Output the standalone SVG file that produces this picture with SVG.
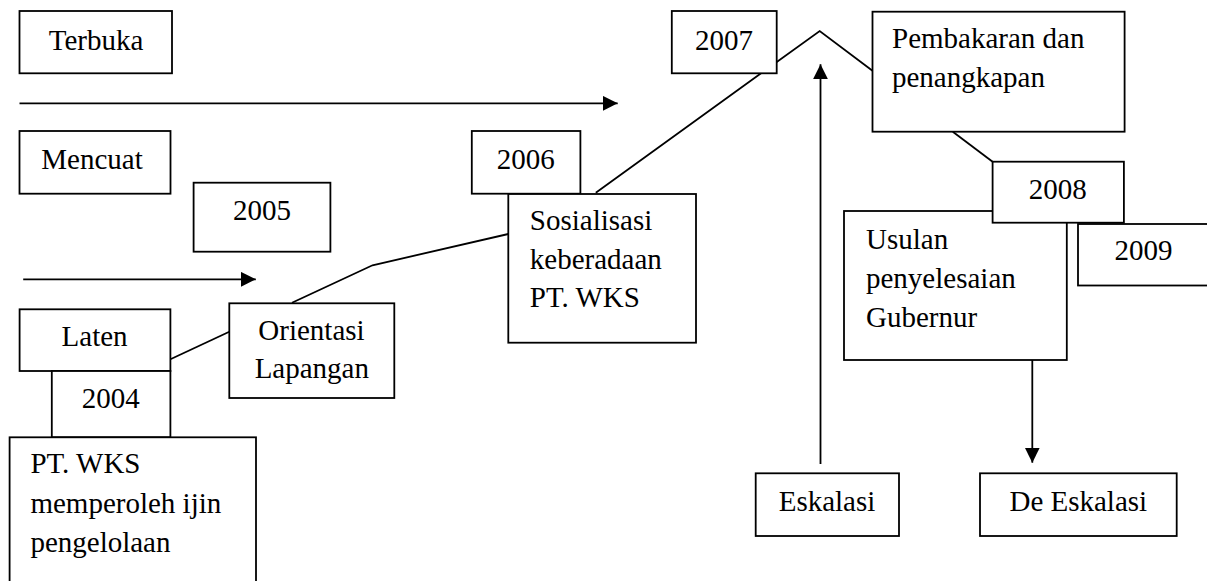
<svg xmlns="http://www.w3.org/2000/svg" width="1207" height="581" viewBox="0 0 1207 581">
<style>
.box{fill:#fff;stroke:#000;stroke-width:1.8}
.ln{fill:none;stroke:#000;stroke-width:1.8}
text{font-family:"Liberation Serif","Times New Roman",serif;font-size:29px;fill:#000}
.m{text-anchor:middle}
</style>
<defs>
<marker id="ah" viewBox="0 0 15 15" markerWidth="15" markerHeight="15" refX="15" refY="7.5" orient="auto" markerUnits="userSpaceOnUse">
<path d="M0,0 L15,7.5 L0,15 z" fill="#000"/>
</marker>
</defs>
<rect width="1207" height="581" fill="#fff"/>
<g id="connectors">
<line class="ln" x1="19.5" y1="103.3" x2="617.7" y2="103.3" marker-end="url(#ah)"/>
<line class="ln" x1="23.2" y1="279.3" x2="255.8" y2="279.3" marker-end="url(#ah)"/>
<polyline class="ln" points="170.4,359.3 229.3,331.7"/>
<polyline class="ln" points="292,302.7 372.5,265.3 508.3,234"/>
<polyline class="ln" points="595.8,192.7 819.7,31 872.5,70.7"/>
<polyline class="ln" points="952.8,131.7 992.6,161.7"/>
<line class="ln" x1="820.5" y1="464" x2="820.5" y2="64.3" marker-end="url(#ah)"/>
<line class="ln" x1="1032.3" y1="360" x2="1032.3" y2="462.7" marker-end="url(#ah)"/>
</g>
<g id="terbuka"><rect class="box" x="19.5" y="11" width="152.5" height="62.3"/><text class="m" x="96" y="49.5">Terbuka</text></g>
<g id="mencuat"><rect class="box" x="19.5" y="131" width="151" height="62.7"/><text class="m" x="92" y="168.5">Mencuat</text></g>
<g id="y2005"><rect class="box" x="193.6" y="182.7" width="136.8" height="69"/><text class="m" x="262" y="220">2005</text></g>
<g id="y2006"><rect class="box" x="471.8" y="131" width="108.6" height="62.7"/><text class="m" x="525.7" y="168.5">2006</text></g>
<g id="sosialisasi"><rect class="box" x="508.3" y="194" width="187.7" height="148.7"/><text x="529.8" y="230">Sosialisasi</text><text x="529.8" y="268.5">keberadaan</text><text x="529.8" y="307">PT. WKS</text></g>
<g id="laten"><rect class="box" x="19.6" y="309.3" width="150.8" height="61.7"/><text class="m" x="94.6" y="346">Laten</text></g>
<g id="y2004"><rect class="box" x="51.8" y="371" width="118.6" height="66.3"/><text class="m" x="110.7" y="407.7">2004</text></g>
<g id="ptwks"><rect class="box" x="9.6" y="437.3" width="246.4" height="155"/><text x="30.4" y="473.3">PT. WKS</text><text x="30.4" y="513.3">memperoleh ijin</text><text x="30.4" y="552.3">pengelolaan</text></g>
<g id="orientasi"><rect class="box" x="229.3" y="303.3" width="165" height="94.7"/><text class="m" x="311.5" y="340">Orientasi</text><text class="m" x="311.8" y="378.3">Lapangan</text></g>
<g id="y2007"><rect class="box" x="671.8" y="11" width="104.9" height="62.3"/><text class="m" x="724" y="49.5">2007</text></g>
<g id="pembakaran"><rect class="box" x="872.5" y="11.7" width="252.1" height="120"/><text x="892" y="48.3">Pembakaran dan</text><text x="892" y="87.3">penangkapan</text></g>
<g id="usulan"><rect class="box" x="844" y="211" width="222.8" height="149"/><text x="866" y="249.3">Usulan</text><text x="866" y="287.5">penyelesaian</text><text x="866" y="326.5">Gubernur</text></g>
<g id="y2008"><rect class="box" x="992.6" y="161.7" width="131.3" height="61"/><text class="m" x="1057.7" y="199">2008</text></g>
<g id="y2009"><rect class="box" x="1078" y="224" width="140" height="61.5"/><text class="m" x="1143.4" y="260">2009</text></g>
<g id="eskalasi"><rect class="box" x="755.7" y="473.3" width="143.3" height="62.7"/><text class="m" x="827" y="510.7">Eskalasi</text></g>
<g id="deeskalasi"><rect class="box" x="980" y="473.3" width="196.7" height="62.7"/><text class="m" x="1078.3" y="510.7">De Eskalasi</text></g>
</svg>
